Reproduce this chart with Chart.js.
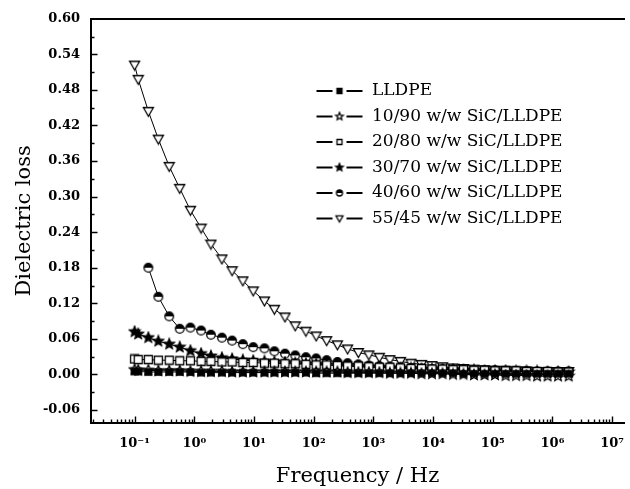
<!DOCTYPE html>
<html>
<head>
<meta charset="utf-8">
<script src="https://cdn.jsdelivr.net/npm/chart.js@4/dist/chart.umd.min.js"></script>
<style>
    html, body { margin: 0; background: #fff; }
    #wrap { width: 630px; height: 489px; }
</style>
</head>
<body>
<div id="wrap"><canvas id="loss-chart"></canvas></div>
<script>
// measurement frequencies, Hz
const freq = [0.1, 0.115, 0.17, 0.25, 0.38, 0.57, 0.86, 1.3, 1.9, 2.9, 4.3, 6.5, 9.7, 15, 22, 33, 49, 74, 110, 165,
    250, 370, 560, 840, 1260, 1890, 2840, 4260, 6390, 9580, 14400, 21600, 32300, 48500, 72800, 109000, 164000, 246000,
    368000, 553000, 829000, 1240000, 1870000]

const lossPure = [0.005, 0.005, 0.004, 0.004, 0.004, 0.004, 0.004, 0.003, 0.003, 0.003, 0.003, 0.003, 0.003, 0.003, 0.003,
    0.003, 0.003, 0.003, 0.002, 0.002, 0.002, 0.002, 0.002, 0.002, 0.002, 0.002, 0.002, 0.002, 0.002, 0.002, 0.002, 0.002,
    0.001, 0.001, 0.001, 0.001, 0.001, 0.001, 0.001, 0.001, 0.001, 0.001, 0.001]
const loss10 = [0.008, 0.007, 0.007, 0.006, 0.006, 0.006, 0.005, 0.005, 0.005, 0.005, 0.004, 0.004, 0.004, 0.004, 0.004,
    0.004, 0.004, 0.004, 0.004, 0.004, 0.004, 0.003, 0.003, 0.003, 0.003, 0.002, 0.002, 0.002, 0.001, 0.001, 0.001, 0.000,
    0.000, -0.001, -0.001, -0.001, -0.002, -0.002, -0.002, -0.003, -0.003, -0.003, -0.003]
const loss20 = [0.026, 0.025, 0.025, 0.024, 0.024, 0.023, 0.023, 0.022, 0.022, 0.021, 0.021, 0.020, 0.020, 0.019, 0.019,
    0.018, 0.018, 0.017, 0.016, 0.016, 0.015, 0.014, 0.014, 0.013, 0.012, 0.012, 0.011, 0.010, 0.010, 0.009, 0.009, 0.008,
    0.008, 0.007, 0.007, 0.006, 0.006, 0.006, 0.005, 0.005, 0.005, 0.004, 0.004]
const loss30 = [0.072, 0.068, 0.062, 0.056, 0.051, 0.046, 0.040, 0.035, 0.031, 0.028, 0.026, 0.024, 0.023, 0.022, 0.021,
    0.020, 0.019, 0.018, 0.017, 0.016, 0.015, 0.014, 0.013, 0.012, 0.012, 0.011, 0.010, 0.010, 0.009, 0.009, 0.008, 0.008,
    0.007, 0.007, 0.006, 0.006, 0.006, 0.005, 0.005, 0.005, 0.004, 0.004, 0.004]
// 40/60 starts at the third frequency
const loss40 = [0.180, 0.131, 0.098, 0.077, 0.079, 0.074, 0.067, 0.062, 0.057, 0.051, 0.046, 0.044, 0.039, 0.035, 0.032,
    0.029, 0.027, 0.024, 0.021, 0.019, 0.017, 0.015, 0.014, 0.013, 0.012, 0.011, 0.010, 0.009, 0.009, 0.008, 0.008, 0.007,
    0.007, 0.007, 0.006, 0.006, 0.006, 0.005, 0.005, 0.005, 0.005]
const loss55 = [0.522, 0.498, 0.444, 0.397, 0.351, 0.314, 0.277, 0.247, 0.220, 0.195, 0.175, 0.158, 0.141, 0.124, 0.110,
    0.097, 0.082, 0.073, 0.065, 0.057, 0.050, 0.043, 0.037, 0.033, 0.029, 0.025, 0.022, 0.019, 0.017, 0.015, 0.013, 0.011,
    0.010, 0.009, 0.008, 0.007, 0.007, 0.006, 0.006, 0.005, 0.005, 0.005, 0.005]

const seriesNames = ['LLDPE', '10/90 w/w SiC/LLDPE', '20/80 w/w SiC/LLDPE', '30/70 w/w SiC/LLDPE', '40/60 w/w SiC/LLDPE', '55/45 w/w SiC/LLDPE']
const yTicks = [-0.06, 0, 0.06, 0.12, 0.18, 0.24, 0.30, 0.36, 0.42, 0.48, 0.54, 0.60]
const xDecades = [-1, 0, 1, 2, 3, 4, 5, 6, 7]

const SUP = { '-': '⁻', '0': '⁰', '1': '¹', '2': '²', '3': '³', '4': '⁴', '5': '⁵', '6': '⁶', '7': '⁷', '8': '⁸', '9': '⁹' }
const toSup = n => String(n).split('').map(c => SUP[c]).join('')

// marker shapes drawn once to small canvases and handed to chart.js as pointStyle
const drawMarker = (ctx, shape, fill, x, y, r) => {
    ctx.beginPath()
    if (shape === 'square') {
        ctx.rect(x - r, y - r, 2 * r, 2 * r)
    } else if (shape === 'circle') {
        ctx.arc(x, y, r, 0, Math.PI * 2)
    } else if (shape === 'triangle') {
        ctx.moveTo(x - r, y - r * 0.75)
        ctx.lineTo(x + r, y - r * 0.75)
        ctx.lineTo(x, y + r)
        ctx.closePath()
    } else if (shape === 'star') {
        for (let i = 0; i < 10; i++) {
            const a = -Math.PI / 2 + i * Math.PI / 5
            const rr = i % 2 ? r * 0.45 : r
            ctx.lineTo(x + rr * Math.cos(a), y + rr * Math.sin(a))
        }
        ctx.closePath()
    }
    ctx.fillStyle = fill === 'full' ? '#000' : '#fff'
    ctx.fill()
    if (fill === 'half') {
        ctx.save()
        ctx.beginPath()
        ctx.arc(x, y, r, Math.PI, Math.PI * 2)
        ctx.closePath()
        ctx.fillStyle = '#000'
        ctx.fill()
        ctx.restore()
        ctx.beginPath()
        ctx.arc(x, y, r, 0, Math.PI * 2)
    }
    ctx.strokeStyle = '#000'
    ctx.lineWidth = 1.3
    ctx.stroke()
}

const markerCanvas = (shape, fill, r) => {
    const size = Math.ceil(2 * r + 3)
    const c = document.createElement('canvas')
    c.width = size
    c.height = size
    drawMarker(c.getContext('2d'), shape, fill, size / 2, size / 2, r)
    return c
}

const legendCanvas = (shape, fill, r) => {
    const c = document.createElement('canvas')
    c.width = 48
    c.height = 12
    const ctx = c.getContext('2d')
    ctx.strokeStyle = '#000'
    ctx.lineWidth = 2
    ctx.beginPath()
    ctx.moveTo(1, 6)
    ctx.lineTo(17, 6)
    ctx.moveTo(31, 6)
    ctx.lineTo(47, 6)
    ctx.stroke()
    drawMarker(ctx, shape, fill, 24, 6, r)
    return c
}

const markers = [
    ['square', 'full', 3.2],
    ['star', 'open', 5.5],
    ['square', 'open', 4],
    ['star', 'full', 5.5],
    ['circle', 'half', 4.3],
    ['triangle', 'open', 5]
]
const legendMarkers = [
    ['square', 'full', 2.5],
    ['star', 'open', 4],
    ['square', 'open', 2.5],
    ['star', 'full', 4],
    ['circle', 'half', 3],
    ['triangle', 'open', 3.5]
]

const seriesValues = [lossPure, loss10, loss20, loss30, loss40, loss55]
const seriesFreq = [freq, freq, freq, freq, freq.slice(2), freq]

const datasets = seriesValues.map((values, i) => ({
    label: seriesNames[i],
    data: values.map((v, j) => ({ x: seriesFreq[i][j], y: v })),
    borderColor: '#000',
    borderWidth: 1,
    pointStyle: markerCanvas(...markers[i]),
    pointRadius: 5,
    tension: 0,
    fill: false
}))

const legendSymbols = legendMarkers.map(m => legendCanvas(...m))

// legend sits inside the plot; chart.js puts a chartArea legend at the area's corner, so shift it
const legendPlacement = {
    id: 'legendPlacement',
    afterLayout(chart) {
        const legend = chart.legend
        legend.left = 307
        legend.top = 74
        legend.right = legend.left + legend.width
        legend.bottom = legend.top + legend.height
    }
}

// inward tick marks: decades and 2..9 on the log axis, 0.06 steps and halves on the loss axis
const axisTicks = {
    id: 'axisTicks',
    afterDraw(chart) {
        const { ctx, chartArea, scales: { x, y } } = chart
        ctx.save()
        ctx.strokeStyle = '#000'
        ctx.lineWidth = 1.4
        ctx.beginPath()
        for (let d = -2; d <= 7; d++) {
            for (let m = 1; m <= 9; m++) {
                const v = m * 10 ** d
                if (v < x.min || v > x.max) continue
                const px = Math.round(x.getPixelForValue(v)) + 0.5
                ctx.moveTo(px, chartArea.bottom)
                ctx.lineTo(px, chartArea.bottom - (m === 1 ? 6.5 : 3.5))
            }
        }
        for (const t of yTicks) {
            for (const v of [t, t + 0.03]) {
                if (v >= y.max || v <= y.min) continue
                const py = Math.round(y.getPixelForValue(v)) + 0.5
                ctx.moveTo(chartArea.left, py)
                ctx.lineTo(chartArea.left + (v === t ? 6.5 : 3.5), py)
            }
        }
        ctx.stroke()
        ctx.restore()
    }
}

const tickFont = { family: "'DejaVu Serif', serif", size: 13, weight: 'bold' }
const titleFont = { family: "'DejaVu Serif', serif", size: 21 }

new Chart(document.querySelector('#loss-chart'), {
    type: 'line',
    data: { datasets },
    plugins: [legendPlacement, axisTicks],
    options: {
        responsive: true,
        maintainAspectRatio: false,
        animation: false,
        layout: { padding: { top: 11, left: 0, right: 0, bottom: 0 } },
        plugins: {
            tooltip: { enabled: false },
            legend: {
                position: 'chartArea',
                align: 'start',
                labels: {
                    usePointStyle: true,
                    pointStyleWidth: 48,
                    padding: 8.5,
                    color: '#000',
                    font: { family: "'DejaVu Serif', serif", size: 17 },
                    generateLabels: chart => chart.data.datasets.map((d, i) => ({
                        text: d.label,
                        pointStyle: legendSymbols[i],
                        datasetIndex: i,
                        fillStyle: '#000',
                        strokeStyle: '#000',
                        lineWidth: 0,
                        fontColor: '#000',
                        hidden: false
                    }))
                }
            }
        },
        scales: {
            x: {
                type: 'logarithmic',
                position: 'bottom',
                min: 0.0186,
                max: 15800000,
                afterBuildTicks: s => { s.ticks = xDecades.map(p => ({ value: 10 ** p })) },
                afterFit: s => {
                    s.height = 66
                    s.paddingLeft = 0
                    s.paddingRight = 0
                },
                ticks: {
                    color: '#000',
                    font: tickFont,
                    padding: 13,
                    maxRotation: 0,
                    autoSkip: false,
                    callback: v => '10' + toSup(Math.round(Math.log10(v)))
                },
                grid: { display: false, drawTicks: false },
                border: { color: '#000', width: 2 },
                title: { display: true, text: 'Frequency / Hz', color: '#000', font: titleFont, padding: { bottom: 0 } }
            },
            top: {
                type: 'linear',
                position: 'top',
                grid: { display: false, drawTicks: false },
                ticks: { display: false },
                afterFit: s => { s.height = 0 },
                border: { color: '#000', width: 2 }
            },
            y: {
                type: 'linear',
                min: -0.082,
                max: 0.6,
                afterBuildTicks: s => { s.ticks = yTicks.map(v => ({ value: v })) },
                afterFit: s => { s.width = 91 },
                ticks: {
                    color: '#000',
                    font: tickFont,
                    padding: 11,
                    callback: v => v.toFixed(2)
                },
                grid: { display: false, drawTicks: false },
                border: { color: '#000', width: 2 },
                title: { display: true, text: 'Dielectric loss', color: '#000', font: titleFont, padding: { top: 12 } }
            }
        }
    }
})
</script>
</body>
</html>
